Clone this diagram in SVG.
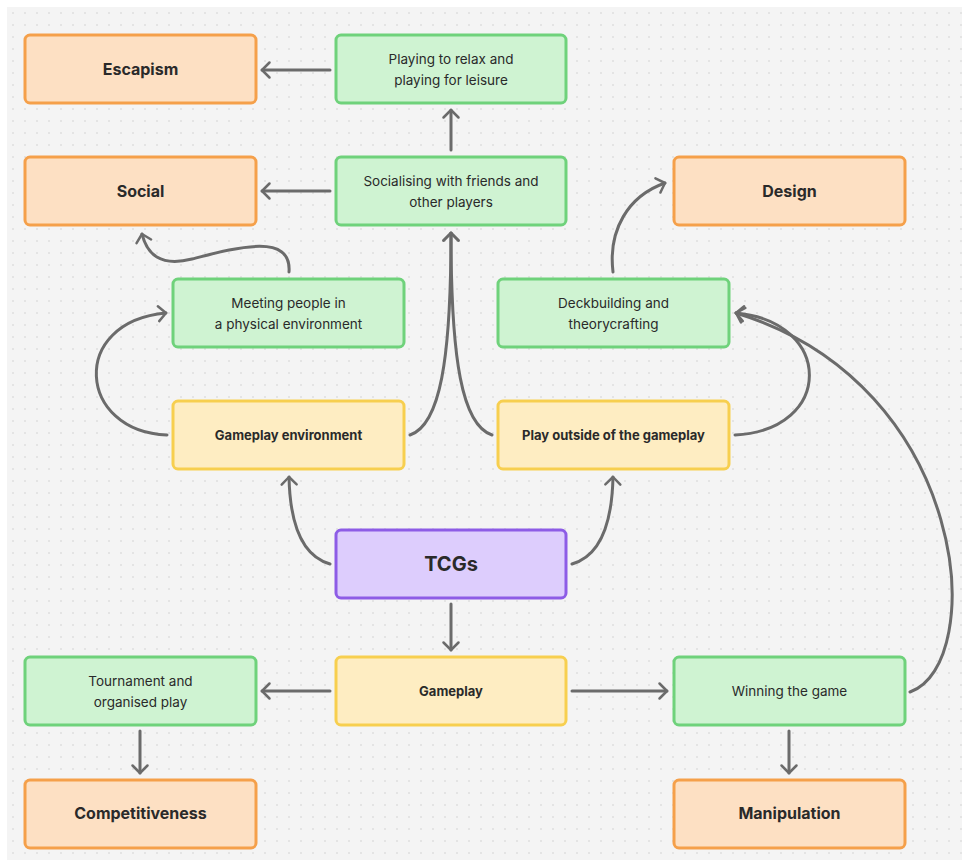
<svg xmlns="http://www.w3.org/2000/svg" width="968" height="866" viewBox="0 0 968 866">
<defs>
<pattern id="dots" x="7" y="7" width="12" height="12" patternUnits="userSpaceOnUse">
<circle cx="6" cy="6" r="0.8" fill="#cfcfcf"/>
</pattern>
<marker id="arr" markerUnits="userSpaceOnUse" markerWidth="20" markerHeight="24" viewBox="-12 -12 24 24" refX="0" refY="0" orient="auto">
<path d="M-9,-9 L0,0 L-9,9" fill="none" stroke="#6b6b6b" stroke-width="3" stroke-linecap="round" stroke-linejoin="round"/>
</marker>
<style>
.o rect{fill:#fde0c3;stroke:#f5a04a;stroke-width:3}
.g rect{fill:#cff3d2;stroke:#6fd27b;stroke-width:3}
.y rect{fill:#feedc2;stroke:#f7cf4f;stroke-width:3}
.p rect{fill:#ddcdfd;stroke:#8d5ce6;stroke-width:3}
text{font-family:Inter,"Noto Sans",sans-serif;fill:#2a2a2a;text-anchor:middle}
.o text{font-size:16px;font-weight:700}
.g text{font-size:13.5px;font-weight:400}
.y text{font-size:13px;font-weight:700}
.p text{font-size:20px;font-weight:700}
#edges path{fill:none;stroke:#6b6b6b;stroke-width:3;stroke-linecap:round;marker-end:url(#arr)}
</style>
</defs>
<rect width="968" height="866" fill="#ffffff"/>
<rect x="7" y="7" width="955" height="853" fill="#f4f4f4"/>
<rect x="7" y="7" width="955" height="853" fill="url(#dots)"/>

<g id="edges">
<path d="M330,70 L262,70"/>
<path d="M451,150 L451,110"/>
<path d="M330,191 L262,191"/>
<path d="M289,272 C292,232 235,248 192,259 C160,267 147,254 142,234"/>
<path d="M167,435 C78,432 68,322 166,313"/>
<path d="M410,435 C440,425 451,360 451,233"/>
<path d="M492,435 C462,425 451,360 451,233"/>
<path d="M613,272 C608,230 628,196 665,183"/>
<path d="M735,435 C834,430 834,322 736,313"/>
<path d="M910,692 C988,665 972,385 736,313"/>
<path d="M330,564 C302,556 290,525 289,477"/>
<path d="M572,564 C600,556 612,525 613,477"/>
<path d="M451,604 L451,650"/>
<path d="M330,691 L262,691"/>
<path d="M572,691 L667,691"/>
<path d="M140,731 L140,773"/>
<path d="M789,731 L789,773"/>
</g>

<g id="escapism" class="o"><rect x="25" y="35" width="231" height="68" rx="5"/><text x="140.5" y="75">Escapism</text></g>
<g id="relax" class="g"><rect x="336" y="35" width="230" height="68" rx="5"/><text x="451" y="64">Playing to relax and</text><text x="451" y="85">playing for leisure</text></g>
<g id="social" class="o"><rect x="25" y="157" width="231" height="68" rx="5"/><text x="140.5" y="197">Social</text></g>
<g id="socialising" class="g"><rect x="336" y="157" width="230" height="68" rx="5"/><text x="451" y="186">Socialising with friends and</text><text x="451" y="207">other players</text></g>
<g id="design" class="o"><rect x="674" y="157" width="231" height="68" rx="5"/><text x="789.5" y="197">Design</text></g>
<g id="meeting" class="g"><rect x="173" y="279" width="231" height="68" rx="5"/><text x="288.5" y="308">Meeting people in</text><text x="288.5" y="329">a physical environment</text></g>
<g id="deckbuilding" class="g"><rect x="498" y="279" width="231" height="68" rx="5"/><text x="613.5" y="308">Deckbuilding and</text><text x="613.5" y="329">theorycrafting</text></g>
<g id="gameplay-env" class="y"><rect x="173" y="401" width="231" height="68" rx="5"/><text x="288.5" y="440">Gameplay environment</text></g>
<g id="play-outside" class="y"><rect x="498" y="401" width="231" height="68" rx="5"/><text x="613.5" y="440">Play outside of the gameplay</text></g>
<g id="tcgs" class="p"><rect x="336" y="530" width="230" height="68" rx="5"/><text x="451" y="571">TCGs</text></g>
<g id="tournament" class="g"><rect x="25" y="657" width="231" height="68" rx="5"/><text x="140.5" y="686">Tournament and</text><text x="140.5" y="707">organised play</text></g>
<g id="gameplay" class="y"><rect x="336" y="657" width="230" height="68" rx="5"/><text x="451" y="696">Gameplay</text></g>
<g id="winning" class="g"><rect x="674" y="657" width="231" height="68" rx="5"/><text x="789.5" y="696">Winning the game</text></g>
<g id="competitiveness" class="o"><rect x="25" y="780" width="231" height="68" rx="5"/><text x="140.5" y="819">Competitiveness</text></g>
<g id="manipulation" class="o"><rect x="674" y="780" width="231" height="68" rx="5"/><text x="789.5" y="819">Manipulation</text></g>
</svg>
